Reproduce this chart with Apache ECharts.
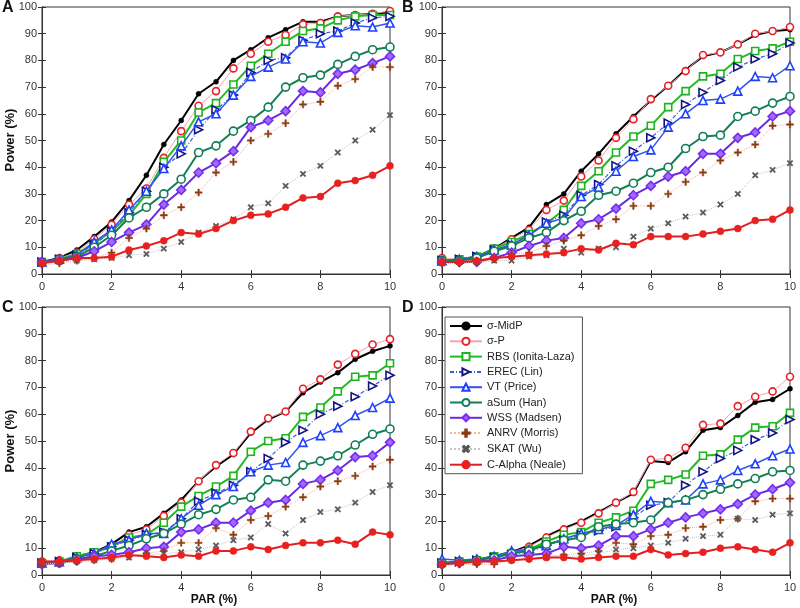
<!DOCTYPE html>
<html><head><meta charset="utf-8">
<script src="https://cdn.jsdelivr.net/npm/echarts@6/dist/echarts.min.js"></script>
<style>html,body{margin:0;padding:0;background:#fff}#c{width:800px;height:608px}</style>
</head><body><div id="c"></div>
<script>
var par = [0,0.5,1,1.5,2,2.5,3,3.5,4,4.5,5,5.5,6,6.5,7,7.5,8,8.5,9,9.5,10];
var names = ['σ-MidP','σ-P','RBS (Ionita-Laza)','EREC (Lin)','VT (Price)','aSum (Han)','WSS (Madsen)','ANRV (Morris)','SKAT (Wu)','C-Alpha (Neale)'];
var panelLetters = ['A','B','C','D'];
var yTicks = [0,10,20,30,40,50,60,70,80,90,100];
var xTicks = [0,2,4,6,8,10];

// Panel A
var A_midp  = [4.5,6,9,14,19.5,27.5,37,48.5,57.5,67.5,72,80,84,88.5,91.5,94.5,94.5,96.5,97,97.5,98];
var A_sigp  = [4,6,8,13,18.5,26,32,43.5,53.5,63,68.5,77,82.5,87,89.5,93.5,94,96.5,97,97.5,98.5];
var A_rbs   = [4.5,5.5,7.5,11.5,16,22,30,42,50,60.5,64,71,78,82.5,87,91,92,95,96.5,97,97];
var A_erec  = [4.5,5.5,7,11,16,23,31,40,45,54,61.5,67,75.5,80,81,87.5,90,91,94,96,96.5];
var A_vt    = [4.5,5.5,7,12,16.5,24,31,39.5,48,57,60,67,74,77.5,80.5,87,86.5,90.5,93,92.5,94];
var A_asum  = [4.5,5.5,6.5,10,14.5,21,25,30,35.5,45.5,48,53.5,57.5,62.5,70,73.5,74.5,78.5,81.5,84,85];
var A_wss   = [4.5,5,6,8.5,12,15.5,18.5,26,31.5,38,41.5,46,55,57.5,61,68.5,68,75,76.5,79,81.5];
var A_anrv  = [3.5,4,5,6,8,13.5,17,22,25,30.5,38,42,50,52.5,56.5,63.5,64.5,70.5,73,77.5,77.5];
var A_skat  = [4.5,4.5,5,5.5,6,7,7.5,9.5,12,15.5,18,20.5,25,26.5,33,37.5,40.5,45.5,50,54,59.5];
var A_calpha= [4,5,6,6,6.5,9,10.5,12.5,15.5,15,17,20,22,22.5,25,28.5,29,34,35,37,40.5];

// Panel B
var B_midp  = [4,5.5,6.5,9.5,13.5,17.5,26,30,38.5,45,52.5,59,65,70.5,76.5,81.5,83,86,89.5,91,91.5];
var B_sigp  = [6,5.5,6.5,9.5,13,16.5,24,27.5,36.5,42.5,51,58,65.5,70.5,76,82,83,86,90,91,92.5];
var B_rbs   = [5,5.5,6.5,9.5,12,15,19,24,33,38.5,45.5,51.5,55.5,62.5,68.5,74,75,80.5,83.5,84.5,87];
var B_erec  = [5,5.5,6.5,9,11,14.5,19.5,22,29.5,33.5,40.5,46,51,56.5,63.5,68,72.5,77.5,80.5,82.5,86.5];
var B_vt    = [5,5.5,6.5,9,11,14.5,19,21,29,32.5,38.5,44,46.5,55,60,65,65.5,68.5,74,73.5,78];
var B_asum  = [5,5,6,8.5,10.5,13.5,15.5,20,23.5,29.5,31,34,38,40,47,51.5,52,59,61,64,66.5];
var B_wss   = [4.5,4.5,4.5,6,8,10.5,12.5,13.5,19,20.5,24.5,29.5,33,36.5,38.5,45,45,51,53,59,61];
var B_anrv  = [4,4,4.5,5.5,7.5,8,10.5,12.5,14.5,18,20.5,25.5,25.5,30,34.5,38,42.5,45.5,48.5,55.5,56];
var B_skat  = [4,4.5,4.5,5,5,6.5,7,9.5,8,9.5,10,14,17,19,21.5,23,26,30,37,39,41.5];
var B_calpha= [4.5,4.5,5,6,6.5,7,7.5,8,9.5,9,11.5,11,14,14,14,15,16,17,20,20.5,24];

// Panel C
var C_midp  = [4.5,5,7,8.5,11.5,16,18,23,28,35,40.5,45,53,58,61,68,72,75.5,80.5,83.5,85.5];
var C_sigp  = [5,5.5,7,8.5,11,15,17,22,27,35,41,45.5,53.5,58.5,61,69.5,73,78.5,82.5,86,88];
var C_rbs   = [4.5,5,7,8.5,10.5,14,15,19.5,25.5,29.5,33,37,46,50,51,59,62.5,68.5,74,74.5,79];
var C_erec  = [4.5,5,6.5,8,10.5,13,15,16,21,27.5,30.5,33.5,38.5,43.5,49.5,54,60,63,66.5,70.5,74.5];
var C_vt    = [4.5,5,6.5,8,11.5,13,15.5,15.5,21,26,30,33,38.5,41,42,49.5,52,55,59.5,62.5,66];
var C_asum  = [4.5,4.5,6,7,9,11,13.5,15.5,19,22.5,24.5,28,29,35.5,35,41,42.5,44.5,48.5,52.5,54.5];
var C_wss   = [4,4.5,5.5,7,7.5,8.5,10,10.5,16,17,19.5,19.5,24,27,28,34,35.5,39,44,44.5,49.5];
var C_anrv  = [4,4.5,5,5.5,6,7,8,9,12,12,17.5,15,20.5,22,25.5,29,33,35,37,40.5,43];
var C_skat  = [4,4.5,5,5.5,6,6.5,7.5,8,8.5,9.5,11,13,14,19,15.5,20.5,23.5,24.5,27,31,33.5];
var C_calpha= [5,5,5.5,6,6.5,7.5,7,6.5,7.5,7,9,9,10.5,9.5,11,12,12,13,11.5,16,15];

// Panel D
var D_midp  = [4,5,5.5,7,8.5,11,14.5,17.5,20,23.5,27,30.5,42.5,42,46,54,55,59.5,64.5,65.5,69.5];
var D_sigp  = [4,5,5.5,7,8.5,10.5,14,17,19.5,23,27,31,43,43.5,47.5,56,56.5,63,66.5,68.5,74];
var D_rbs   = [4.5,5,5.5,7,8,9.5,12.5,15,16,19.5,21.5,24,34,35.5,37.5,44.5,45,50.5,55,55.5,60.5];
var D_erec  = [4.5,5,5.5,6.5,7.5,8.5,11,13,15,16.5,18,21.5,26,27,33.5,38.5,43.5,46.5,50.5,53,58];
var D_vt    = [6,5.5,6,7,9,9.5,11,13.5,15.5,17,18.5,22.5,27.5,27,28,34,35.5,39,41.5,44.5,47];
var D_asum  = [4.5,5,5.5,6.5,8,9,11.5,13,14,18,19,19.5,20.5,27,28,30,32,34,36,38.5,39];
var D_wss   = [4,4.5,5,5.5,7,7.5,8,10.5,10,11,14.5,14.5,17,19.5,21.5,23,24.5,26.5,30,32,34.5];
var D_anrv  = [3.5,4,4,4,5.5,6,7,7.5,8,9,12,11.5,14.5,15,17.5,18,20.5,21,27.5,28.5,28.5];
var D_skat  = [4,4.5,4.5,5,5.5,6,6.5,7,7,8,9.5,10,11,12,13.5,14.5,15,21,20.5,22.5,23];
var D_calpha= [4,4.5,5,5,5.5,6,6.5,6.5,6,6.5,7,7,9.5,7.5,8,8.5,10,10.5,9.5,8.5,12];

var panels = [
  [A_midp,A_sigp,A_rbs,A_erec,A_vt,A_asum,A_wss,A_anrv,A_skat,A_calpha],
  [B_midp,B_sigp,B_rbs,B_erec,B_vt,B_asum,B_wss,B_anrv,B_skat,B_calpha],
  [C_midp,C_sigp,C_rbs,C_erec,C_vt,C_asum,C_wss,C_anrv,C_skat,C_calpha],
  [D_midp,D_sigp,D_rbs,D_erec,D_vt,D_asum,D_wss,D_anrv,D_skat,D_calpha]
];

var PLUS = 'path://M4,0H6V4H10V6H6V10H4V6H0V4H4Z';
var styles = [
  {symbol:'circle', size:5, mc:'#000', fill:'#000', lc:'#000', lw:2, lt:'solid'},
  {symbol:'circle', size:7, mc:'#e8202a', fill:'#fff', lc:'#f5a5ad', lw:1, lt:'solid'},
  {symbol:'rect', size:7, mc:'#1eb41e', fill:'#fff', lc:'#22bb22', lw:2, lt:'solid'},
  {symbol:'triangle', size:8, rot:-90, mc:'#141486', fill:'#fff', lc:'#3a5fcd', lw:1.2, lt:[4,2,1,2]},
  {symbol:'triangle', size:8, mc:'#1f3fff', fill:'#fff', lc:'#3355ee', lw:1.5, lt:'solid'},
  {symbol:'circle', size:8, mc:'#0f7d55', fill:'#fff', lc:'#168050', lw:2, lt:'solid'},
  {symbol:'diamond', size:9, mc:'#7a2cf0', fill:'#9c6cff', lc:'#6a2be0', lw:2, lt:'solid'},
  {symbol:PLUS, size:7, mc:'#8b3a0f', fill:'#8b3a0f', lc:'#f2b49a', lw:1, lt:'dotted'},
  {symbol:PLUS, size:7, rot:45, mc:'#555', fill:'#555', lc:'#c4c4c4', lw:1, lt:'dotted'},
  {symbol:'circle', size:7, mc:'#e8201f', fill:'#e8201f', lc:'#e02020', lw:2, lt:'solid'}
];

var gridPos = [
  {left:42, top:7, width:348, height:267},
  {left:442, top:7, width:348, height:267},
  {left:42, top:307, width:348, height:268},
  {left:442, top:307, width:348, height:268}
];
var grids = [], xAxes = [], yAxes = [], series = [];
var axLine = {show:true, lineStyle:{color:'#333', width:1}};
var lbl = {color:'#333', fontSize:11, fontFamily:'Liberation Sans, Arial, sans-serif'};
gridPos.forEach(function(g, i){
  grids.push(Object.assign({show:true, borderColor:'#333', borderWidth:1, backgroundColor:'#fff'}, g));
  xAxes.push({type:'value', gridIndex:i, min:0, max:10, interval:2, position:'bottom',
    axisLine:axLine, axisTick:{inside:true, length:4, lineStyle:{color:'#333'}},
    axisLabel:Object.assign({margin:7, formatter:function(v){return xTicks.indexOf(v)>=0?String(v):'';}}, lbl), splitLine:{show:false}});
  xAxes.push({type:'value', gridIndex:i, min:0, max:10, interval:2, position:'top',
    axisLine:axLine, axisTick:{inside:true, length:4, lineStyle:{color:'#333'}}, axisLabel:{show:false}, splitLine:{show:false}});
  yAxes.push({type:'value', gridIndex:i, min:0, max:100, interval:10, position:'left',
    axisLine:axLine, axisTick:{inside:true, length:4, lineStyle:{color:'#333'}},
    axisLabel:Object.assign({margin:5, formatter:function(v){return yTicks.indexOf(v)>=0?String(v):'';}}, lbl), splitLine:{show:false}});
  yAxes.push({type:'value', gridIndex:i, min:0, max:100, interval:10, position:'right',
    axisLine:axLine, axisTick:{inside:true, length:4, lineStyle:{color:'#333'}}, axisLabel:{show:false}, splitLine:{show:false}});
  panels[i].forEach(function(vals, k){
    var s = styles[k];
    series.push({
      name: names[k], type:'line', xAxisIndex:2*i, yAxisIndex:2*i,
      data: par.map(function(x, j){ return [x, vals[j]]; }),
      symbol: s.symbol, symbolSize: s.size, symbolRotate: s.rot || 0,
      showAllSymbol: true, animation:false, z: 2 + k*0.01,
      itemStyle: {color: s.fill, borderColor: s.mc, borderWidth: (s.fill === s.mc ? 0.5 : 1.6)},
      lineStyle: {color: s.lc, width: s.lw, type: s.lt},
      emphasis:{disabled:true}
    });
  });
});

var chart = echarts.init(document.getElementById('c'), null, {renderer:'canvas'});
chart.setOption({
  backgroundColor:'#fff',
  animation:false,
  grid: grids, xAxis: xAxes, yAxis: yAxes, series: series,
  legend: {
    data: names, orient:'vertical', left:445, top:317, width:140,
    backgroundColor:'#fff', borderColor:'#555', borderWidth:1, padding:[3,8,3,4],
    itemGap:3.3, itemWidth:32, itemHeight:9,
    textStyle:{fontSize:11, lineHeight:12, color:'#222', fontFamily:'Liberation Sans, Arial, sans-serif'},
    selectedMode:false
  },
  graphic: [
    {type:'text', left:2, top:0, style:{text:'A', font:'bold 16px Liberation Sans, Arial', fill:'#111'}},
    {type:'text', left:402, top:0, style:{text:'B', font:'bold 16px Liberation Sans, Arial', fill:'#111'}},
    {type:'text', left:2, top:300, style:{text:'C', font:'bold 16px Liberation Sans, Arial', fill:'#111'}},
    {type:'text', left:402, top:300, style:{text:'D', font:'bold 16px Liberation Sans, Arial', fill:'#111'}},
    {type:'text', x:10, y:140, rotation:Math.PI/2, style:{text:'Power (%)', font:'bold 13px Liberation Sans, Arial', fill:'#111', align:'center', verticalAlign:'middle'}},
    {type:'text', x:10, y:441, rotation:Math.PI/2, style:{text:'Power (%)', font:'bold 13px Liberation Sans, Arial', fill:'#111', align:'center', verticalAlign:'middle'}},
    {type:'text', x:214, y:600, style:{text:'PAR (%)', font:'bold 12px Liberation Sans, Arial', fill:'#111', align:'center', verticalAlign:'middle'}},
    {type:'text', x:614, y:600, style:{text:'PAR (%)', font:'bold 12px Liberation Sans, Arial', fill:'#111', align:'center', verticalAlign:'middle'}}
  ]
});
</script></body></html>
